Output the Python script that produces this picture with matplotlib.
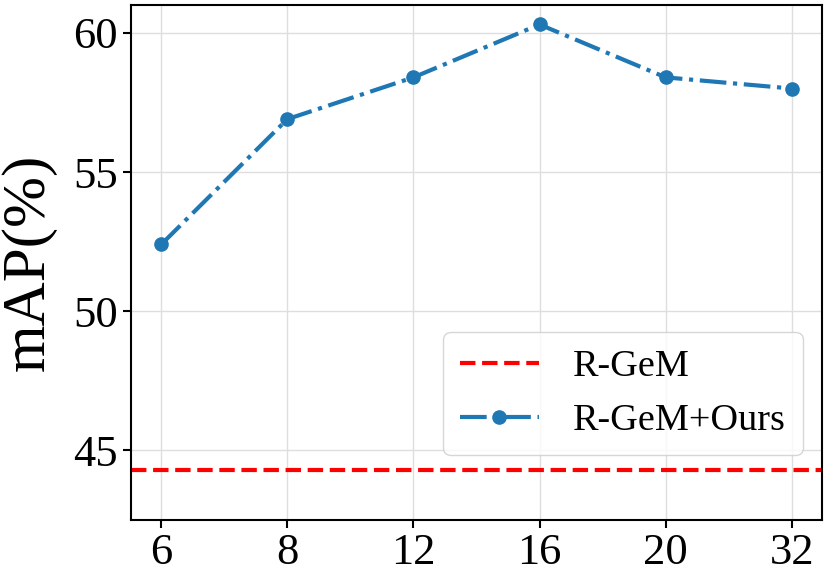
import matplotlib
matplotlib.use("Agg")
import matplotlib.pyplot as plt

# patch counts on x, mAP on y
x_labels = ["6", "8", "12", "16", "20", "32"]
ours_map = [52.4, 56.9, 58.4, 60.3, 58.4, 58.0]
rgem_map = 44.3

plt.rcParams['font.family'] = ['Liberation Serif', 'DejaVu Serif']

fig = plt.figure(figsize=(8.3, 5.73), dpi=100)
ax = fig.add_axes([131/830, 53/573, 691/830, 515/573])

xs = list(range(len(x_labels)))
ax.axhline(rgem_map, color='red', linestyle='--', linewidth=3, label='R-GeM')
ax.plot(xs, ours_map, color='#1f77b4', linestyle='-.', linewidth=3,
        marker='o', markersize=9.5, label='R-GeM+Ours')

ax.set_xticks(xs)
ax.set_xticklabels(x_labels)
ax.set_yticks([45, 50, 55, 60])
ax.set_ylim(42.5, 61)
ax.set_xlim(-0.24, 5.24)
ax.tick_params(labelsize=32, width=1.5, length=6)
for s in ax.spines.values():
    s.set_linewidth(1.5)
ax.grid(True, color='#dedede', linewidth=1)
ax.set_ylabel("mAP(%)", fontsize=44, labelpad=12)
ax.legend(loc='lower right', bbox_to_anchor=(0.9725, 0.126), borderaxespad=0,
          fontsize=27.5, handlelength=2.05, borderpad=0.45, labelspacing=0.5,
          handletextpad=0.9)

fig.savefig("out.png", dpi=100)
